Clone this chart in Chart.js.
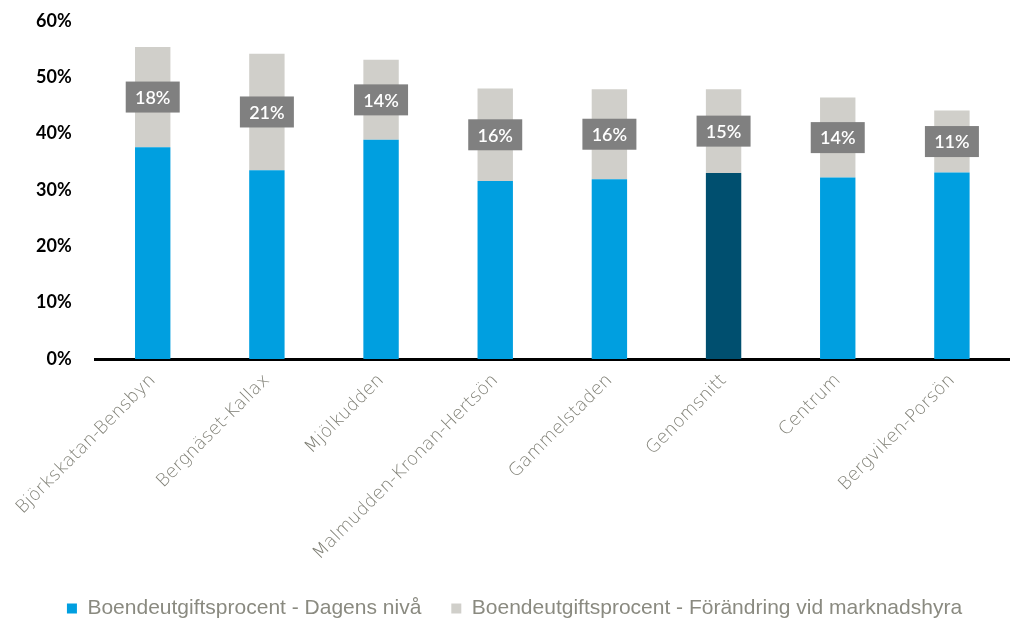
<!DOCTYPE html>
<html>
<head>
<meta charset="utf-8">
<script src="https://cdn.jsdelivr.net/npm/chart.js@4/dist/chart.umd.min.js"></script>
<style>
  html, body { margin: 0; padding: 0; background: #fff; }
  #wrap { width: 1011px; height: 619px; }
</style>
</head>
<body>
<div id="wrap"><canvas id="chart"></canvas></div>
<script>
// Områden
const categories = ['Björkskatan-Bensbyn', 'Bergnäset-Kallax', 'Mjölkudden', 'Malmudden-Kronan-Hertsön',
                    'Gammelstaden', 'Genomsnitt', 'Centrum', 'Bergviken-Porsön'];
// Boendeutgiftsprocent idag (%)
const dagensNiva = [37.6, 33.5, 38.9, 31.6, 31.9, 33.0, 32.2, 33.1];
// Tillägg vid marknadshyra (%)
const forandring = [17.8, 20.7, 14.2, 16.4, 16.0, 14.9, 14.2, 11.0];
// Etiketter på de grå staplarna
const forandringLabels = ['18%', '21%', '14%', '16%', '16%', '15%', '14%', '11%'];
const yTicks = [0, 10, 20, 30, 40, 50, 60];

const highlightIndex = categories.indexOf('Genomsnitt');

// ritar etikettrutorna mitt i det grå segmentet
const boxLabels = {
    id: 'boxLabels',
    afterDatasetsDraw(chart) {
        const ctx = chart.ctx;
        const meta = chart.getDatasetMeta(1);
        ctx.save();
        ctx.font = '600 18px Lato, "DejaVu Sans", sans-serif';
        ctx.textAlign = 'center';
        ctx.textBaseline = 'middle';
        meta.data.forEach((bar, i) => {
            const p = bar.getProps(['x', 'y', 'base'], true);
            const cy = (p.y + p.base) / 2;
            const w = 54, h = 31;
            ctx.fillStyle = '#808080';
            ctx.fillRect(p.x - w / 2, cy - h / 2, w, h);
            ctx.fillStyle = '#ffffff';
            ctx.fillText(forandringLabels[i], p.x, cy + 1);
        });
        ctx.restore();
    }
};

new Chart(document.getElementById('chart'), {
    type: 'bar',
    data: {
        labels: categories,
        datasets: [{
            label: 'Boendeutgiftsprocent - Dagens nivå',
            data: dagensNiva,
            backgroundColor: c => c.dataIndex === highlightIndex ? '#004f6f' : '#009fe0',
            categoryPercentage: 1,
            barPercentage: 0.31
        }, {
            label: 'Boendeutgiftsprocent - Förändring vid marknadshyra',
            data: forandring,
            backgroundColor: '#d0cfca',
            categoryPercentage: 1,
            barPercentage: 0.31
        }]
    },
    options: {
        responsive: true,
        maintainAspectRatio: false,
        animation: false,
        layout: { padding: { top: 21, right: 2, left: 20, bottom: -10 } },
        plugins: {
            tooltip: { enabled: false },
            legend: {
                position: 'bottom',
                labels: {
                    boxWidth: 10,
                    boxHeight: 10,
                    padding: 30,
                    color: '#8a8a80',
                    font: { family: '"Liberation Sans", Arial, sans-serif', size: 21 }
                }
            }
        },
        scales: {
            x: {
                stacked: true,
                grid: { display: false },
                border: { display: true, color: '#000', width: 3 },
                ticks: {
                    minRotation: 45,
                    maxRotation: 45,
                    color: '#7f7f75',
                    font: { family: '"DejaVu Sans", sans-serif', size: 18, weight: 300 }
                },
                afterFit: s => { s.height = 209; }
            },
            y: {
                stacked: true,
                min: 0,
                max: 60,
                grid: { display: false },
                border: { display: false },
                afterBuildTicks: s => { s.ticks = yTicks.map(v => ({ value: v })); },
                afterFit: s => { s.paddingTop = 0; s.paddingBottom = 0; },
                ticks: {
                    color: '#000',
                    padding: 16,
                    font: { family: 'Lato, "DejaVu Sans", sans-serif', size: 18, weight: 'bold' },
                    callback: v => v + '%'
                }
            }
        }
    },
    plugins: [boxLabels]
});
</script>
</body>
</html>
